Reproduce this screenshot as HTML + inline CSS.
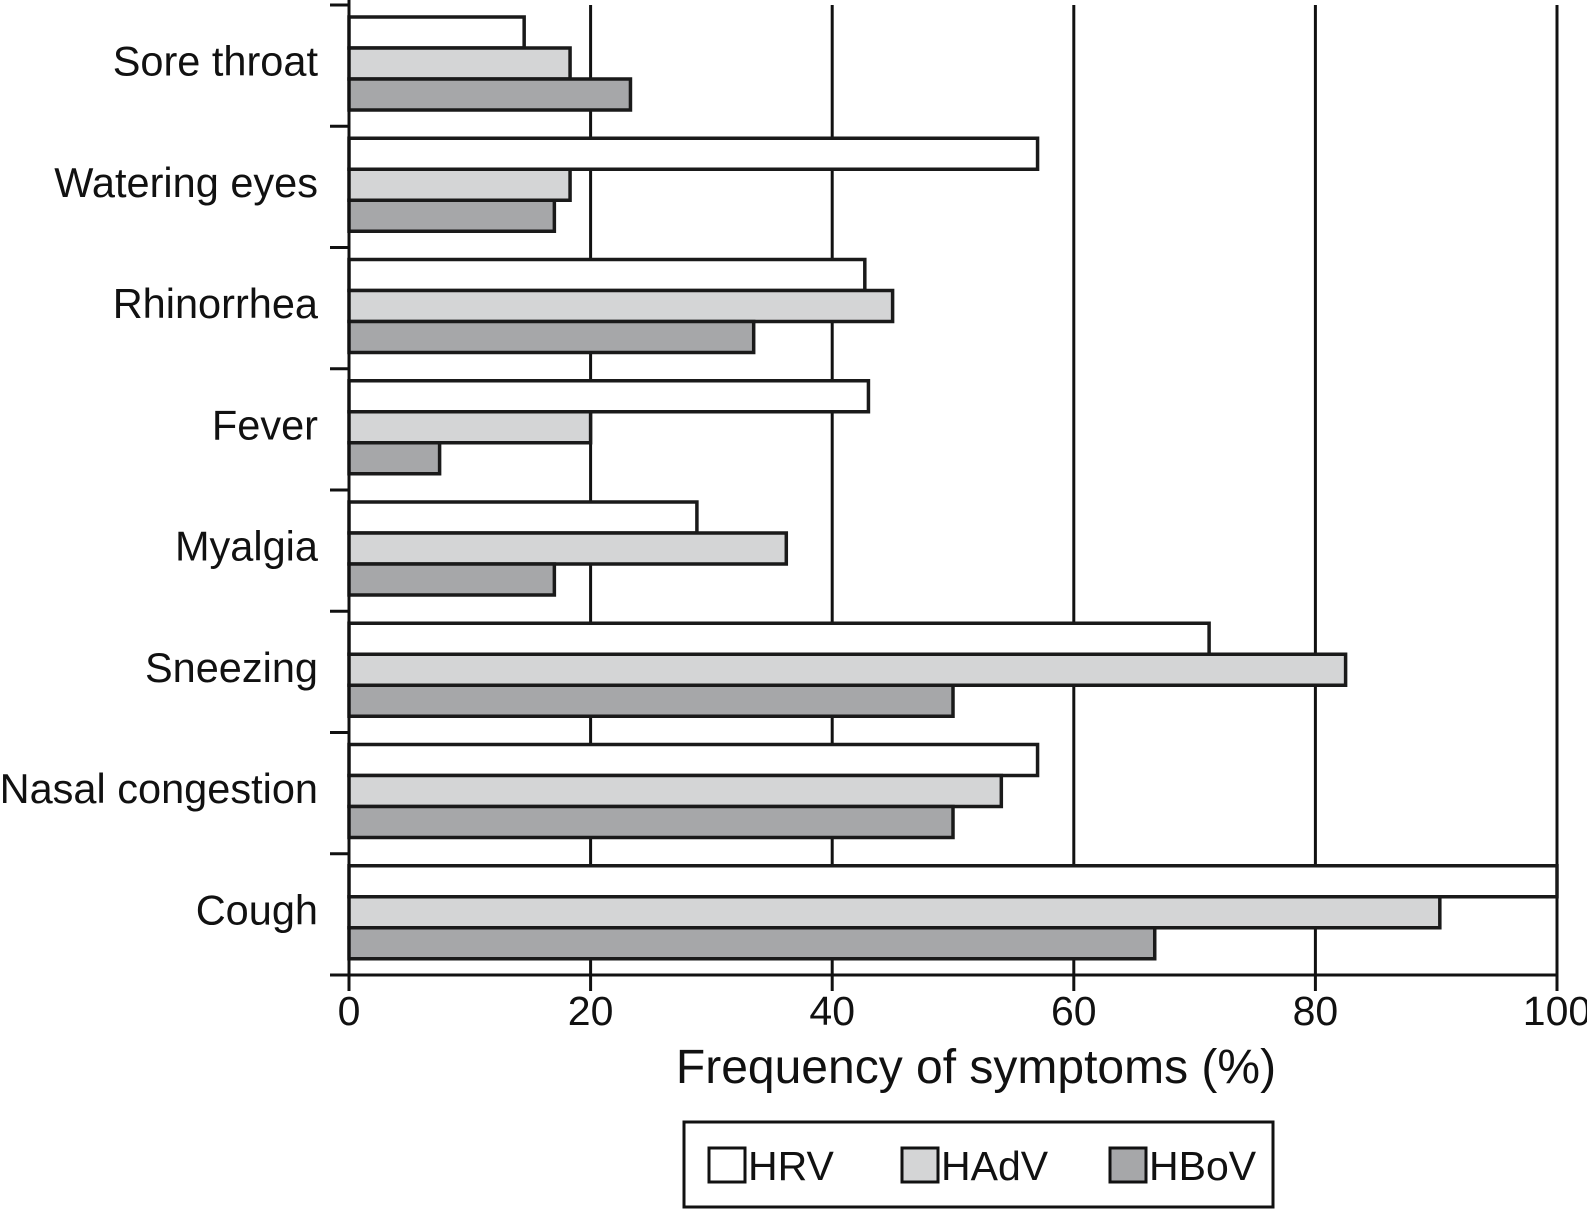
<!DOCTYPE html>
<html><head><meta charset="utf-8"><style>body{margin:0;background:#fff}svg{display:block}text{font-family:"Liberation Sans",sans-serif;fill:#111}</style></head>
<body>
<svg id="c" width="1587" height="1210"></svg>
<script>
const categories=["Sore throat","Watering eyes","Rhinorrhea","Fever","Myalgia","Sneezing","Nasal congestion","Cough"];
const seriesNames=["HRV","HAdV","HBoV"];
const hrv=[14.5,57,42.7,43,28.8,71.2,57,100];
const hadv=[18.3,18.3,45,20,36.2,82.5,54,90.3];
const hbov=[23.3,17,33.5,7.5,17,50,50,66.7];
const xTicks=[0,20,40,60,80,100];
const fills=["#ffffff","#d4d5d6","#a6a7a9"];
const NS="http://www.w3.org/2000/svg",svg=document.getElementById('c');
const x0=349,x1=1557,yTop=5,yBot=975;
const band=(yBot-yTop)/categories.length;
const xs=v=>x0+(x1-x0)*v/100;
function mk(t,a,p){const e=document.createElementNS(NS,t);for(const k in a)e.setAttribute(k,a[k]);(p||svg).appendChild(e);return e;}
xTicks.forEach(t=>{if(t>0){const l=mk('line',{x1:xs(t),x2:xs(t),y1:yTop,y2:yBot,stroke:'#111','stroke-width':3});

}
const tk=mk('line',{x1:xs(t),x2:xs(t),y1:yBot,y2:yBot+16,stroke:'#111','stroke-width':3});


const tl=mk('text',{x:xs(t),y:yBot+50,'text-anchor':'middle','font-size':41});tl.textContent=t;

});
const series=[hrv,hadv,hbov];
categories.forEach((c,i)=>{const by=yTop+i*band;
series.forEach((s,j)=>{const r=mk('rect',{x:x0,y:by+12+j*31,width:xs(s[i])-x0,height:31,fill:fills[j],stroke:'#1a1a1a','stroke-width':3.5});

});
const tl=mk('text',{x:318,y:by+band/2+10,'text-anchor':'end','font-size':41.5});tl.textContent=c;

});
for(let i=0;i<=categories.length;i++){const y=yTop+i*band;const t=mk('line',{x1:330,x2:x0,y1:y,y2:y,stroke:'#111','stroke-width':3});

}
const ya=mk('line',{x1:x0,x2:x0,y1:yTop-5,y2:yBot+16,stroke:'#111','stroke-width':3});


const xa=mk('line',{x1:x0,x2:x1+1,y1:yBot,y2:yBot,stroke:'#111','stroke-width':3});


const xt=mk('text',{x:976,y:1083,'text-anchor':'middle','font-size':48});xt.textContent='Frequency of symptoms (%)';


const lg=mk('g',{});


mk('rect',{x:684,y:1122,width:589,height:85,fill:'#fff',stroke:'#111','stroke-width':3},lg);
const lx=[709,902,1110];
seriesNames.forEach((n,j)=>{const g=mk('g',{},lg);


mk('rect',{x:lx[j],y:1148,width:36,height:34,fill:fills[j],stroke:'#111','stroke-width':3},g);
const t=mk('text',{x:lx[j]+39,y:1180,'font-size':41},g);t.textContent=n;});
</script>
</body></html>
